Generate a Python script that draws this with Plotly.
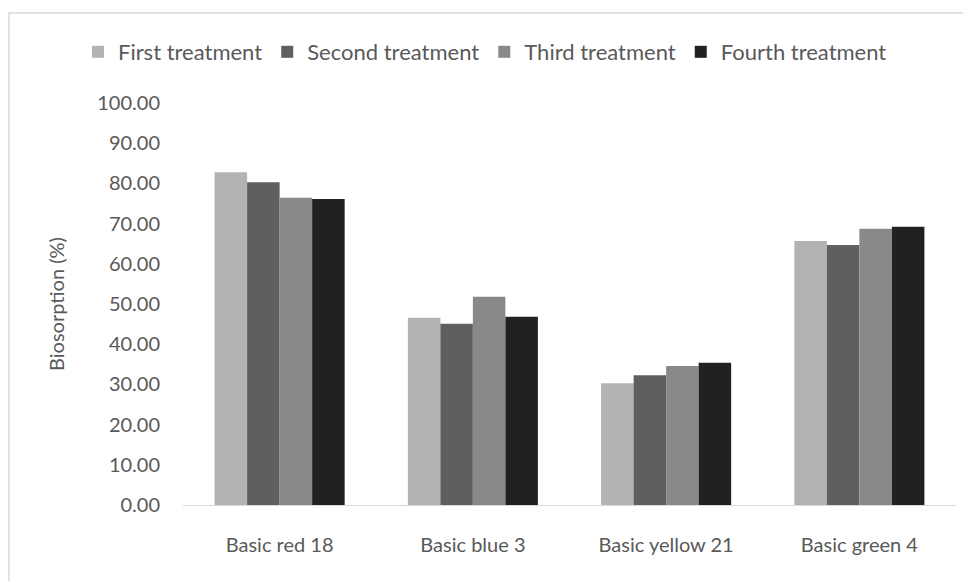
import plotly.graph_objects as go

categories = ["Basic red 18", "Basic blue 3", "Basic yellow 21", "Basic green 4"]
series_names = ["First treatment", "Second treatment", "Third treatment", "Fourth treatment"]
first = [82.8, 46.6, 30.3, 65.7]
second = [80.3, 45.1, 32.3, 64.7]
third = [76.4, 51.8, 34.6, 68.7]
fourth = [76.1, 46.8, 35.4, 69.2]
colors = ["#b3b3b3", "#5f5f5f", "#898989", "#212121"]
y_ticks = [0, 10, 20, 30, 40, 50, 60, 70, 80, 90, 100]

W, H = 971, 581
OFF = 8  # page body offset
L, R, T, B = 183 - OFF, 971 - (956 - OFF), 103 - OFF, 581 - (505 - OFF)
pw, ph = W - L - R, H - T - B

fig = go.Figure()
for name, vals, col in zip(series_names, [first, second, third, fourth], colors):
    fig.add_trace(go.Bar(name=name, x=categories, y=vals, marker=dict(color=col, line=dict(width=0))))

font_family = "Lato, Open Sans, sans-serif"
FS = 20
fig.update_layout(
    width=W, height=H,
    margin=dict(l=L, r=R, t=T, b=B, autoexpand=False),
    paper_bgcolor="white", plot_bgcolor="white",
    barmode="group", bargap=0.327, bargroupgap=0,
    font=dict(family=font_family, size=FS, color="#595959"),
    showlegend=True,
    legend=dict(orientation="h", x=(70 - L) / pw, xanchor="left",
                y=(H - B - (52 - OFF)) / ph, yanchor="middle",
                font=dict(size=22, color="#595959"),
                itemwidth=30, traceorder="normal", bgcolor="rgba(0,0,0,0)"),
    xaxis=dict(showgrid=False, showline=True, linecolor="#d9d9d9", linewidth=1,
               ticks="", tickfont=dict(size=FS, color="#595959"), ticklabelstandoff=22,
               zeroline=False),
    yaxis=dict(range=[0, 100], tickvals=y_ticks, tickformat=".2f", showgrid=False,
               showline=False, zeroline=False, ticks="",
               tickfont=dict(size=FS, color="#595959"), ticklabelstandoff=22,
               title=dict(text="Biosorption (%)", font=dict(size=FS, color="#595959"), standoff=27)),
    shapes=[dict(type="rect", xref="paper", yref="paper",
                 x0=(9 - OFF - L) / pw, x1=(W + 20 - L) / pw,
                 y0=-(B + 20) / ph, y1=(H - B - (13 - OFF)) / ph,
                 line=dict(color="#d9d9d9", width=1.5), fillcolor="rgba(0,0,0,0)", layer="below")],
)

fig.write_html("out.html")
